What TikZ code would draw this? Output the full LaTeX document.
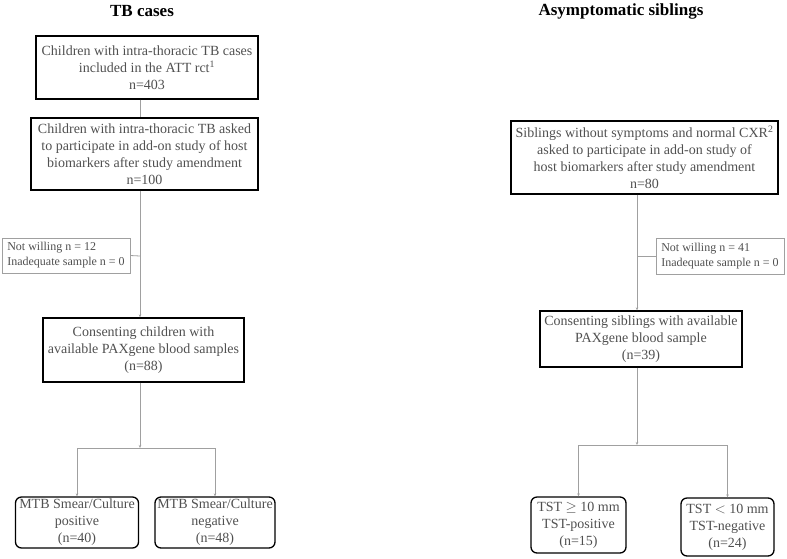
\documentclass[tikz,border=0pt]{standalone}
\usepackage{fontspec}
\setmainfont{Liberation Serif}
\usetikzlibrary{arrows.meta}
\definecolor{txtgray}{HTML}{505050}
\definecolor{linegray}{HTML}{A0A0A0}
\tikzset{
  mainbox/.style={draw=black, line width=1.3pt, text=txtgray, align=center, inner sep=2pt},
  sidebox/.style={draw=linegray, line width=0.8pt, text=txtgray, align=left, inner sep=2pt, font=\fontsize{12}{15}\selectfont},
  endbox/.style={mainbox, rounded corners=6pt},
  conn/.style={draw=linegray, line width=0.8pt},
  title/.style={font=\fontsize{17}{20}\selectfont\bfseries}
}
\begin{document}
\begin{tikzpicture}[x=1pt, y=-1pt, font=\fontsize{14}{17}\selectfont, >={Stealth[length=3pt,width=2.5pt]}]
  \useasboundingbox (0,0) rectangle (787,558);
  \node[title] (tbt) at (142,11) {TB cases};
  \node[title] (sibt) at (621,11) {Asymptomatic siblings};
  % TB cases
  \node[mainbox, minimum width=222pt, minimum height=63pt] (b1) at (147,67.5)
    {Children with intra-thoracic TB cases\\included in the ATT rct\textsuperscript{1}\\n=403};
  \node[mainbox, minimum width=227pt, minimum height=72pt] (b2) at (144.5,154)
    {Children with intra-thoracic TB asked\\to participate in add-on study of host\\biomarkers after study amendment\\n=100};
  \node[sidebox, minimum width=128pt, minimum height=35pt] (nwL) at (66,255.5)
    {Not willing n = 12\\Inadequate sample n = 0};
  \node[mainbox, minimum width=201pt, minimum height=64pt] (b3) at (143.5,350)
    {Consenting children with\\available PAXgene blood samples\\(n=88)};
  \node[endbox, minimum width=123pt, minimum height=51pt] (pos) at (77,522.5)
    {MTB Smear/Culture\\positive\\(n=40)};
  \node[endbox, minimum width=120pt, minimum height=51pt] (neg) at (215,522.5)
    {MTB Smear/Culture\\negative\\(n=48)};
  \coordinate (jL) at (140,256);
  \coordinate (sL) at (140,448);
  \draw[conn] (b1.south -| jL) -- (b2.north -| jL);
  \draw[conn,->] (b2.south -| jL) -- (b3.north -| jL);
  \draw[conn] (nwL.east) -- (jL);
  \draw[conn,->] (b3.south -| jL) -- (sL);
  \draw[conn,->] (sL) -| (pos);
  \draw[conn,->] (sL) -| (neg);
  % siblings
  \node[mainbox, minimum width=267pt, minimum height=73pt] (r1) at (644.5,157.5)
    {Siblings without symptoms and normal CXR\textsuperscript{2}\\asked to participate in add-on study of\\host biomarkers after study amendment\\n=80};
  \node[sidebox, minimum width=128pt, minimum height=36pt] (nwR) at (720,256)
    {Not willing n = 41\\Inadequate sample n = 0};
  \node[mainbox, minimum width=202pt, minimum height=56pt] (r3) at (641,339)
    {Consenting siblings with available\\PAXgene blood sample\\(n=39)};
  \node[endbox, minimum width=95pt, minimum height=56pt] (tpos) at (578.5,525)
    {TST $\geq$ 10 mm\\TST-positive\\(n=15)};
  \node[endbox, minimum width=93pt, minimum height=58pt] (tneg) at (727.5,527)
    {TST $<$ 10 mm\\TST-negative\\(n=24)};
  \coordinate (jR) at (637,256);
  \coordinate (sR) at (637,445);
  \draw[conn,->] (r1.south -| jR) -- (r3.north -| jR);
  \draw[conn] (nwR.west) -- (jR);
  \draw[conn,->] (r3.south -| jR) -- (sR);
  \draw[conn,->] (sR) -| (tpos);
  \draw[conn,->] (sR) -| (tneg);
\end{tikzpicture}
\end{document}
